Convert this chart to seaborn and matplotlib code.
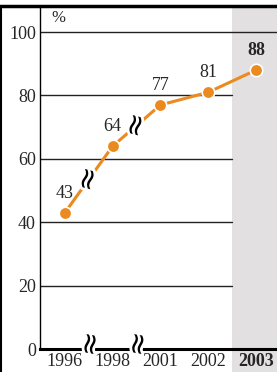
import matplotlib
matplotlib.use("Agg")
import matplotlib.pyplot as plt
import matplotlib.patheffects as pe
import seaborn as sns
import pandas as pd

# data
years = ["1996", "1998", "2001", "2002", "2003"]
values = [43, 64, 77, 81, 88]
yticks = [0, 20, 40, 60, 80, 100]

df = pd.DataFrame({"year": years, "pct": values})
df["pos"] = range(len(years))

sns.set_style("white")
plt.rcParams["font.family"] = ["Liberation Serif", "DejaVu Serif"]

orange = "#EA8A1F"
fig = plt.figure(figsize=(2.77, 3.72), dpi=100)

# frame lines
fig.add_artist(plt.Line2D([0, 1], [366.5 / 372, 366.5 / 372], transform=fig.transFigure,
                          color="black", lw=2.5))
fig.add_artist(plt.Line2D([0.002, 0.002], [0, 366 / 372], transform=fig.transFigure,
                          color="black", lw=1.5))

ax = fig.add_axes([40 / 277, 23 / 372, 237 / 277, 341 / 372])

# highlight band for the last year
ax.axvspan(len(years) - 1.5, 4.44, ymin=-0.08, ymax=1, color="#E2E0E1", lw=0,
           clip_on=False, zorder=0)

for v in yticks[1:]:
    xmax = 1.0 if v == 100 else (232 - 40) / 237
    ax.axhline(v, xmin=0, xmax=xmax, color="#222222", lw=1.0, zorder=1)

sns.lineplot(data=df, x="pos", y="pct", ax=ax, color=orange, lw=2.2, marker="o",
             markersize=9, markeredgecolor="white", markeredgewidth=1.2, zorder=3)

for i, (p, v) in enumerate(zip(df["pos"], df["pct"])):
    ax.annotate(str(v), (p, v), xytext=(0, 8), textcoords="offset points",
                ha="center", va="bottom", fontsize=13,
                fontweight="bold" if i == len(years) - 1 else "normal")

# axis break marks
cut = [pe.withStroke(linewidth=4, foreground="white")]
for k in range(2):
    mid = (values[k] + values[k + 1]) / 2
    ax.text(k + 0.5, mid, "≈", ha="center", va="center", fontsize=21, rotation=75,
            family="DejaVu Sans", color="black", zorder=4, path_effects=cut)
    ax.text(k + 0.55, 1.5, "≈", ha="center", va="center", fontsize=21, rotation=80,
            family="DejaVu Sans", color="black", zorder=4, path_effects=cut,
            clip_on=False)

ax.set_xlim(-0.52, 4.44)
ax.set_ylim(0, 107.6)
ax.set_xticks(df["pos"])
ax.set_xticklabels(years, fontsize=13)
ax.get_xticklabels()[-1].set_fontweight("bold")
ax.set_yticks(yticks)
ax.set_yticklabels([str(t) for t in yticks], fontsize=13)
ax.tick_params(axis="both", length=0, pad=3)
ax.set_xlabel("")
ax.set_ylabel("")
ax.text(0.05, 0.995, "%", transform=ax.transAxes, fontsize=12, ha="left", va="top")

sns.despine(ax=ax, top=True, right=True)
ax.spines["left"].set_color("black")
ax.spines["left"].set_linewidth(1.0)
ax.spines["bottom"].set_color("black")
ax.spines["bottom"].set_linewidth(2.2)
ax.spines["bottom"].set_zorder(2)

fig.savefig("out.png", dpi=100)
